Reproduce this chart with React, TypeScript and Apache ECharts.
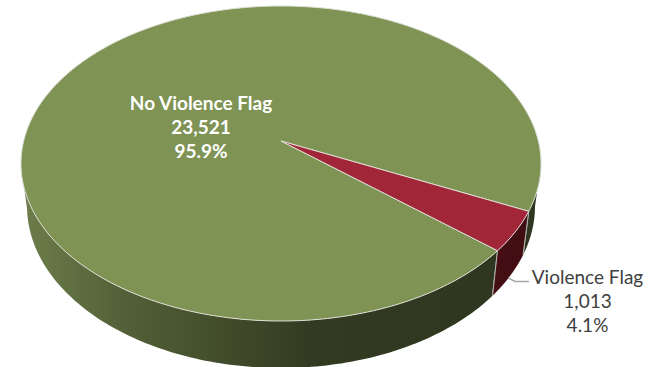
import React, { useEffect, useRef } from "react";
import * as echarts from "echarts";

const categories = ["No Violence Flag", "Violence Flag"];
const counts = [23521, 1013];
const percentLabels = ["95.9%", "4.1%"];
const topColors = ["#7e9354", "#a02638"];

// Angle (deg, clockwise from east, on the un-tilted disc) where the first slice starts.
const FIRST_START = 40.2;
const TOTAL = counts.reduce((a, b) => a + b, 0);

// Geometry of the perspective pie
const CX = 281;
const TOP = { cy: 163.5, rx: 260, ry: 157.5 };
const BOTTOM = { cy: 206, rx: 254, ry: 162 };
const A = 22.5 / 157.5; // how far the projected centre sits above the ellipse's centre

// Projective map of the unit disc onto itself: keeps the rim a circle, moves the centre up
function project(deg: number): [number, number] {
  const r = (deg * Math.PI) / 180;
  const u = Math.cos(r);
  const v = Math.sin(r);
  const w = 1 - A * v;
  return [(u * Math.sqrt(1 - A * A)) / w, (v - A) / w];
}
const onEllipse = (p: [number, number], e: { cy: number; rx: number; ry: number }): number[] => [
  CX + p[0] * e.rx,
  e.cy + p[1] * e.ry,
];

function sliceRange(idx: number): [number, number] {
  let start = FIRST_START;
  for (let i = 0; i < idx; i++) start += (counts[i] / TOTAL) * 360;
  return [start, start + (counts[idx] / TOTAL) * 360];
}

function samples(s: number, e: number): number[] {
  const out: number[] = [];
  const n = Math.max(2, Math.ceil((e - s) / 1));
  for (let i = 0; i <= n; i++) out.push(s + ((e - s) * i) / n);
  return out;
}

const wallGreen = () =>
  new echarts.graphic.LinearGradient(
    24, 0, 540, 0,
    [
      { offset: 0, color: "#6c7d4a" },
      { offset: 0.2, color: "#525f37" },
      { offset: 0.42, color: "#3f4929" },
      { offset: 0.56, color: "#323a21" },
      { offset: 1, color: "#2e3620" },
    ],
    true
  );
const wallRed = () =>
  new echarts.graphic.LinearGradient(
    490, 0, 530, 0,
    [
      { offset: 0, color: "#470f15" },
      { offset: 1, color: "#3e0d11" },
    ],
    true
  );

function renderWall(_: any, api: any) {
  const idx = api.value(2);
  const [s, e] = sliceRange(idx);
  const runs: number[][] = [];
  let run: number[] = [];
  samples(s, e).forEach((d) => {
    if (project(d)[1] >= 0) run.push(d);
    else if (run.length) {
      runs.push(run);
      run = [];
    }
  });
  if (run.length) runs.push(run);
  const children: any[] = runs.map((r) => {
    const t = r.map((d) => onEllipse(project(d), TOP));
    const b = r.map((d) => onEllipse(project(d), BOTTOM)).reverse();
    return {
      type: "polygon",
      shape: { points: t.concat(b) },
      style: { fill: idx === 0 ? wallGreen() : wallRed(), stroke: null },
    };
  });
  // the light edges between the wall's slices
  [s, e].forEach((d) => {
    const p = project(d);
    if (p[1] >= 0) {
      const a = onEllipse(p, TOP);
      const c = onEllipse(p, BOTTOM);
      children.push({
        type: "line",
        shape: { x1: a[0], y1: a[1], x2: c[0], y2: c[1] },
        style: { stroke: "#b4b4b0", lineWidth: 1 },
      });
    }
  });
  return { type: "group", children };
}

function renderTop(_: any, api: any) {
  const idx = api.value(2);
  const [s, e] = sliceRange(idx);
  const rim = samples(s, e).map((d) => onEllipse(project(d), TOP));
  const apex = [CX + 0, TOP.cy - A * TOP.ry];
  return {
    type: "polygon",
    shape: { points: [apex].concat(rim) },
    style: { fill: topColors[idx], stroke: "#dcdfd4", lineWidth: 1, lineJoin: "miter" },
  };
}

function labelLines(idx: number): string[] {
  return [categories[idx], counts[idx].toLocaleString("en-US"), percentLabels[idx]];
}

function renderLabel(_: any, api: any) {
  const idx = api.value(2);
  const inside = idx === 0;
  const x = inside ? 201 : 587.5;
  const y = inside ? 102 : 276;
  const children: any[] = labelLines(idx).map((t, i) => ({
    type: "text",
    style: {
      text: t,
      x,
      y: y + i * 24.3,
      align: "center",
      verticalAlign: "middle",
      fontFamily: "Lato, sans-serif",
      fontSize: 19,
      fontWeight: inside ? "bold" : "normal",
      fill: inside ? "#ffffff" : "#404040",
    },
  }));
  if (!inside) {
    children.push({
      type: "polyline",
      shape: { points: [[508, 278], [515, 281.5], [529, 281.5]] },
      style: { stroke: "#a6a6a6", lineWidth: 1.5, fill: null },
    });
  }
  return { type: "group", children };
}

export default function App() {
  const ref = useRef<HTMLDivElement>(null);
  useEffect(() => {
    document.body.style.margin = "0";
    const chart = echarts.init(ref.current!, undefined, { renderer: "svg" });
    const data = categories.map((name, i) => ({ name, value: [counts[i], percentLabels[i], i] }));
    const base = { type: "custom", coordinateSystem: "none", silent: true, data };
    chart.setOption({
      animation: false,
      backgroundColor: "#ffffff",
      series: [
        { ...base, renderItem: renderWall, z: 1 },
        { ...base, renderItem: renderTop, z: 2 },
        { ...base, renderItem: renderLabel, z: 3 },
      ],
    });
    return () => chart.dispose();
  }, []);
  return <div ref={ref} style={{ width: 653, height: 367 }} />;
}
